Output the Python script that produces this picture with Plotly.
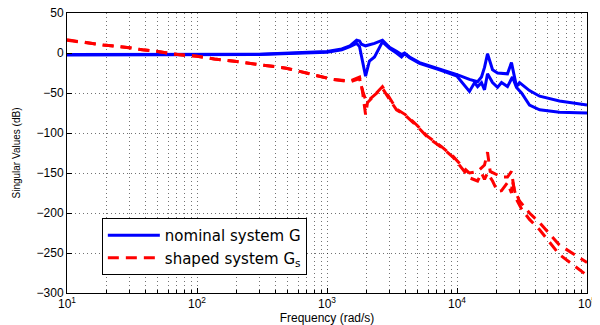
import plotly.graph_objects as go

# ---------------- data ----------------
nom1_f = [10, 300, 1000, 1300, 1500, 1690, 1780, 1840, 1980, 2120, 2320, 2670, 3025, 3425,
          3745, 3950, 4315, 5150, 7340, 10000, 12470, 14400, 15430, 16280, 17170, 18770,
          20500, 24450, 26240, 28700, 30270, 36100, 43200, 61400, 100000]
nom1_db = [-2, -1.5, 2, 5, 9, 16, 15, 11, 9, 10, 12, 16, 7, 2,
           -2, 0, -5, -12, -20, -27, -33, -36, -30, -18, -1, -21,
           -25, -26, -12, -42, -37, -47, -54, -60, -65]

nom2_f = [10, 300, 1000, 1300, 1500, 1690, 1780, 1875, 1980, 2120, 2320, 2670, 3025, 3425,
          3745, 3950, 4315, 5150, 7340, 10000, 12470, 13650, 14400, 15430, 16280, 17170,
          18770, 20500, 22000, 24450, 26700, 28700, 31370, 36100, 43200, 61400, 100000]
nom2_db = [-2.5, -2, 1, 4, 8, 12, 8, -10, -29, -10, -5, 14, 6, 0,
           -5, -1, -6, -13, -21, -29, -48, -37, -42, -37, -46, -26,
           -37, -43, -37, -42, -30, -43, -50, -65, -71, -74, -75]

shp1_f = [10, 19, 29, 38, 50, 71, 100, 136, 187, 300, 485, 615, 1100, 1500, 1780, 1875,
          1980, 2050, 2320, 2670, 3025, 3425, 4000, 4900, 5900, 7600, 9300, 11000, 12470,
          14400, 16280, 17170, 18000, 20500, 22000, 24450, 26240, 27500, 30270, 36100,
          43200, 61400, 100000]
shp1_db = [16.5, 10, 7, 4, 2, -2, -4, -7.5, -10, -14, -19, -23, -33, -35, -30, -48,
           -77, -62, -52, -42, -56, -70, -77, -90, -104, -117, -129, -142, -150,
           -148, -140, -124, -148, -152, -155, -155, -148, -170, -185, -200,
           -212, -240, -262]

shp2_f = [10, 19, 29, 38, 50, 71, 100, 136, 187, 300, 485, 615, 1100, 1500, 1780, 1900,
          2000, 2120, 2400, 2670, 3025, 3425, 4000, 4900, 5900, 7600, 9300, 11000, 12470,
          14400, 15430, 16280, 17170, 18770, 20500, 22000, 24450, 26240, 26700, 28700,
          31370, 36100, 43200, 61400, 100000]
shp2_db = [16, 10, 7, 4, 2, -2, -4, -7.5, -10, -14, -19, -23, -33, -36, -32, -50,
           -60, -58, -50, -44, -58, -71, -78, -91, -105, -118, -130, -145, -156,
           -160, -150, -158, -150, -160, -173, -172, -162, -175, -160, -183,
           -195, -208, -221, -252, -278]

x_tick_vals = [10, 100, 1000, 10000, 100000]
x_tick_text = ["10<sup>1</sup>", "10<sup>2</sup>", "10<sup>3</sup>", "10<sup>4</sup>", "10<sup>5</sup>"]
y_tick_vals = [50, 0, -50, -100, -150, -200, -250, -300]

legend_names = ["nominal system G", "shaped system G<sub>s</sub>"]

# ---------------- figure ----------------
BLUE = "#0000FF"
RED = "#FF0000"
fig = go.Figure()
fig.add_trace(go.Scatter(x=nom1_f, y=nom1_db, mode="lines", name=legend_names[0],
                         line=dict(color=BLUE, width=3)))
fig.add_trace(go.Scatter(x=nom2_f, y=nom2_db, mode="lines", showlegend=False,
                         line=dict(color=BLUE, width=3)))
fig.add_trace(go.Scatter(x=shp1_f, y=shp1_db, mode="lines", name=legend_names[1],
                         line=dict(color=RED, width=3, dash="11px,7px")))
fig.add_trace(go.Scatter(x=shp2_f, y=shp2_db, mode="lines", showlegend=False,
                         line=dict(color=RED, width=3, dash="11px,7px")))

minor_vals = [m * d for d in [10, 100, 1000, 10000] for m in range(2, 10)]
GRID = "rgba(0,0,0,0.55)"

# the page body has an 8px default margin, so the figure is sized/offset for it
fig.update_layout(
    width=592, height=317,
    margin=dict(l=59, r=13, t=5, b=32),
    paper_bgcolor="white", plot_bgcolor="white",
    font=dict(family="Liberation Sans, Arial, sans-serif", color="black", size=11),
    legend=dict(x=0.067, y=0.268, xanchor="left", yanchor="top",
                bgcolor="white", bordercolor="black", borderwidth=1,
                font=dict(family="DejaVu Sans, sans-serif", size=15),
                itemwidth=52, tracegroupgap=0),
    xaxis=dict(type="log", range=[1, 5], tickvals=x_tick_vals, ticktext=x_tick_text,
               automargin=False, ticklabeloverflow="allow",
               showline=True, mirror=True, linecolor="black", linewidth=1,
               ticks="inside", ticklen=5, tickcolor="black", tickfont=dict(size=12),
               showgrid=True, gridcolor=GRID, griddash="1px,3px", gridwidth=1,
               minor=dict(tickvals=minor_vals, showgrid=True, gridcolor=GRID,
                          griddash="1px,3px", ticks="inside", ticklen=3, tickcolor="black"),
               zeroline=False,
               title=dict(text="Frequency (rad/s)", font=dict(size=12), standoff=5)),
    yaxis=dict(range=[-300, 50], tickvals=y_tick_vals, automargin=False,
               ticklabeloverflow="allow",
               showline=True, mirror=True, linecolor="black", linewidth=1,
               ticks="inside", ticklen=5, tickcolor="black", tickfont=dict(size=12),
               showgrid=True, gridcolor=GRID, griddash="1px,3px", gridwidth=1,
               zeroline=False,
               title=dict(text="Singular Values (dB)", font=dict(size=10), standoff=14)),
)

fig.write_html("out.html")
